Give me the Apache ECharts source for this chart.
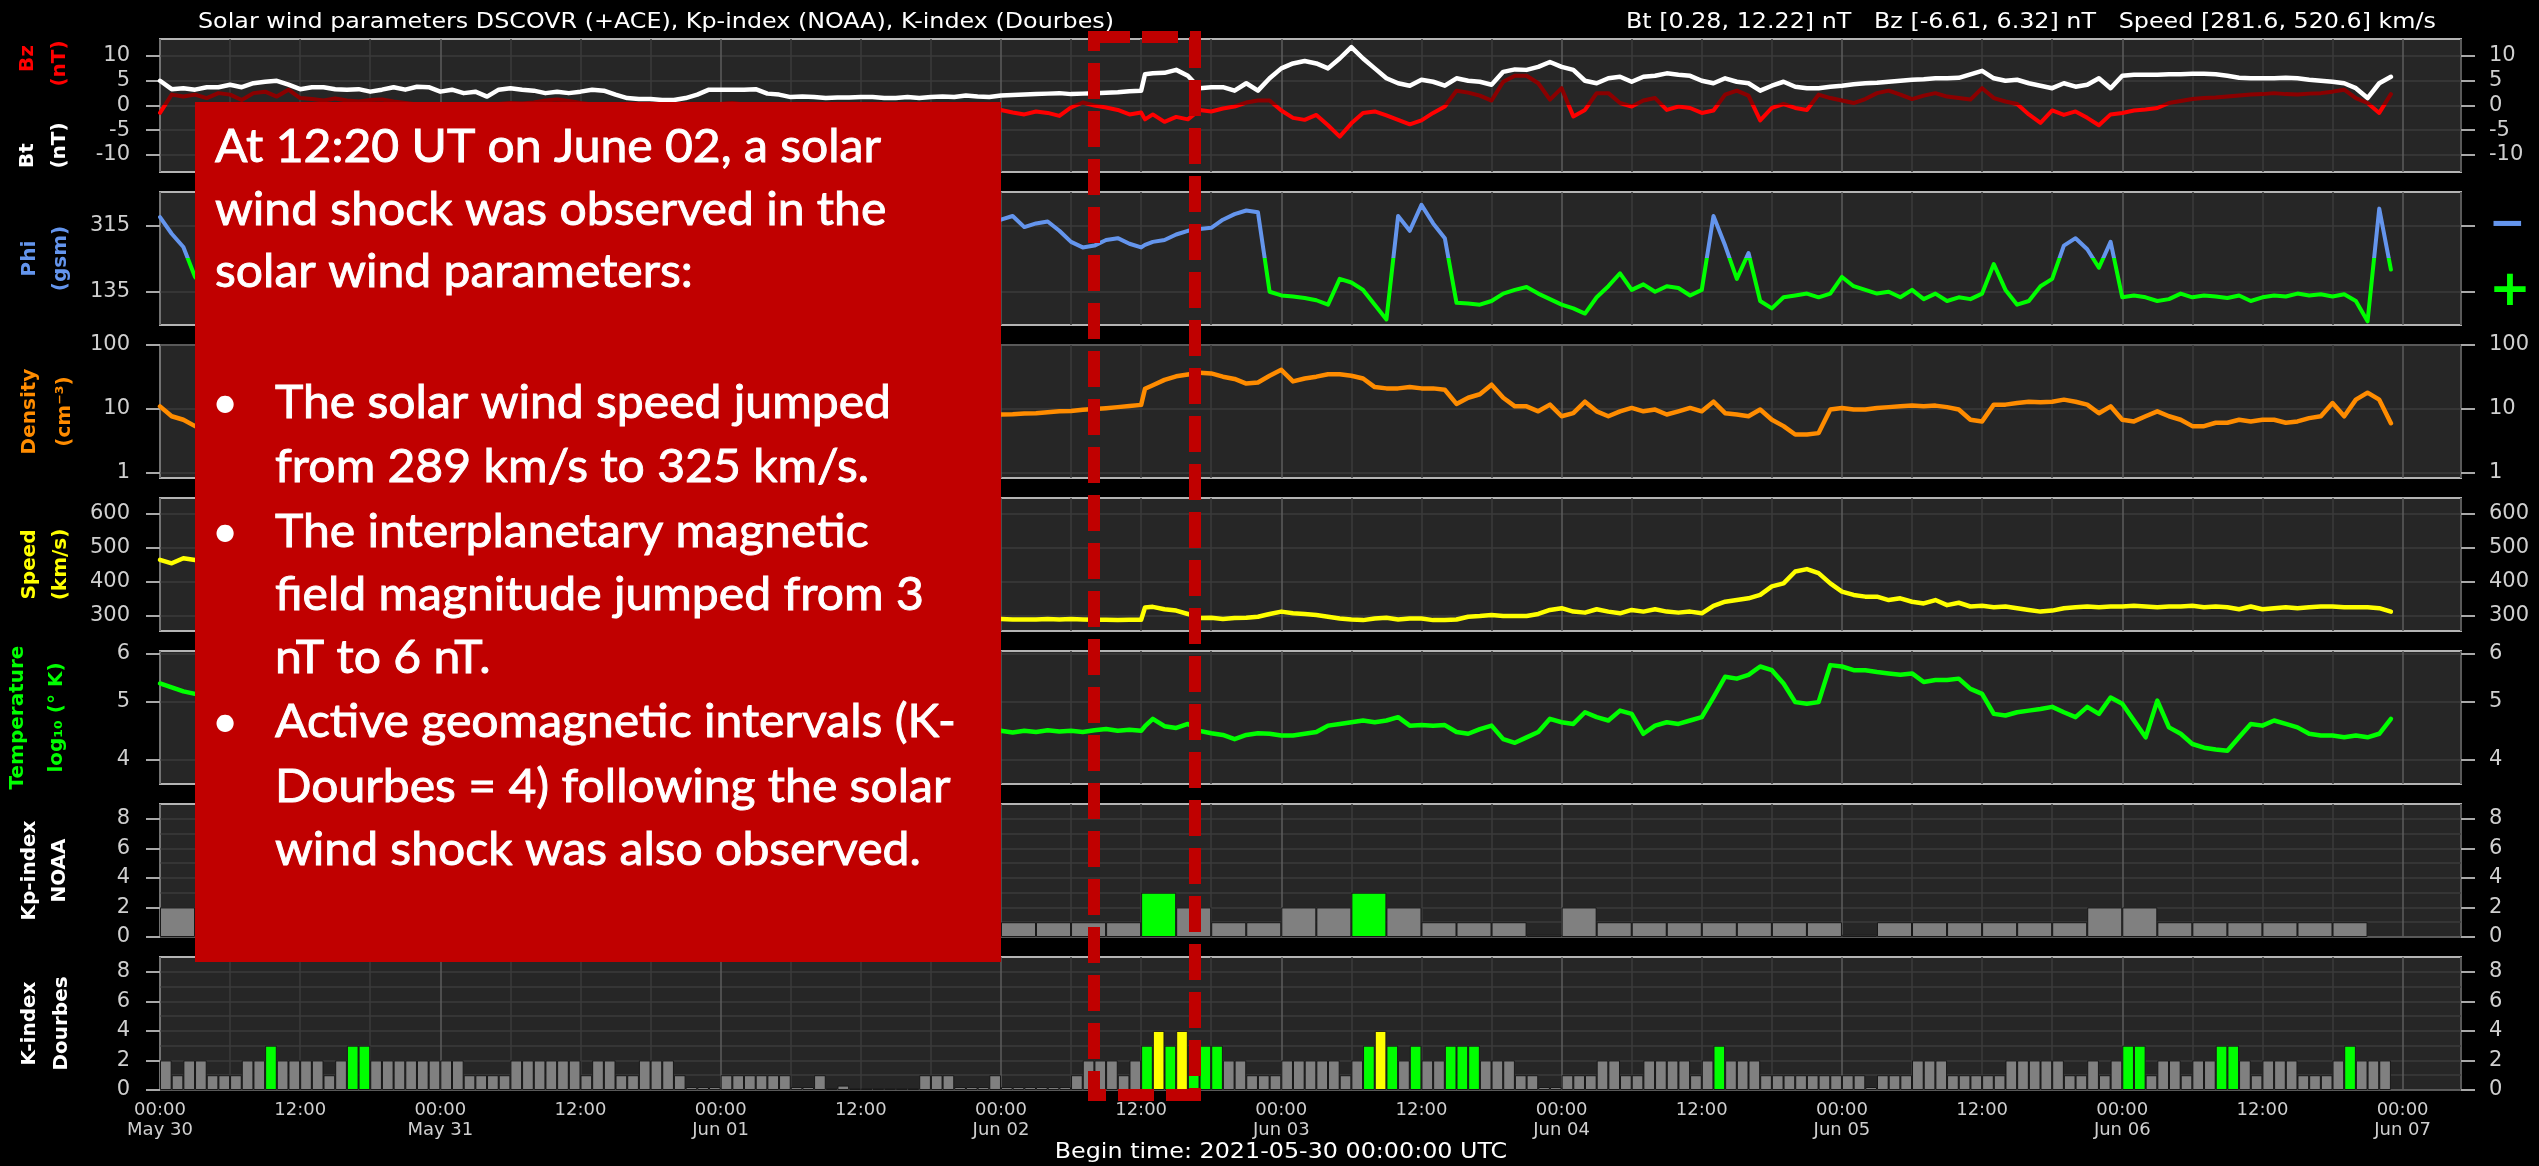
<!DOCTYPE html>
<html>
<head>
<meta charset="utf-8">
<script src="https://cdn.jsdelivr.net/npm/echarts@6/dist/echarts.min.js"></script>
<style>
  html, body { margin: 0; padding: 0; background: #000; }
  #chart { width: 2539px; height: 1166px; }
</style>
</head>
<body>
<div id="chart"></div>
<script>
// ---------------- data (hours since 2021-05-30 00:00 UTC) ----------------
const DAY_LABELS = ['May 30', 'May 31', 'Jun 01', 'Jun 02', 'Jun 03', 'Jun 04', 'Jun 05', 'Jun 06', 'Jun 07'];
const SHOCK_HOUR = 84.33;

// hourly samples, plus the shock instant (12:20 UT on Jun 02)
const HOURS = [];
for (let h = 0; h < 192; h++) {
  HOURS.push(h);
  if (h === 84) HOURS.push(SHOCK_HOUR);
}

// Bt (nT)
const BT = [
  5.0, 3.3, 3.5, 3.2, 3.7, 3.7, 4.2, 3.7, 4.5, 4.8, 5.0, 4.2,
  3.3, 3.7, 3.7, 3.3, 3.2, 3.3, 2.8, 3.2, 3.7, 3.2, 3.8, 3.7,
  2.8, 3.2, 2.5, 2.8, 1.8, 3.2, 3.5, 3.2, 3.0, 2.5, 2.8, 2.5,
  2.8, 3.2, 3.0, 2.2, 1.5, 1.3, 1.3, 1.1, 1.1, 1.5, 2.2, 3.2,
  3.2, 3.2, 3.2, 3.3, 2.4, 2.2, 1.7, 1.8, 1.7, 1.5, 1.6, 1.6,
  1.7, 1.7, 1.5, 1.5, 1.7, 1.5, 1.7, 1.8, 1.7, 2.0, 1.8, 1.7,
  2.0, 2.1, 2.2, 2.3, 2.4, 2.5, 2.3, 2.4, 2.5, 2.6, 2.7, 2.9,
  3.0, 6.3, 6.5, 6.6, 7.2, 6.0, 3.5, 3.7, 3.7, 3.0, 4.5, 3.0, 5.5,
  7.5, 8.5, 9.0, 8.5, 7.5, 9.5, 11.8, 9.5, 7.5, 5.5, 4.5, 4.0,
  5.2, 4.8, 4.0, 5.5, 5.0, 4.8, 4.2, 6.8, 7.3, 7.2, 7.8, 8.8,
  7.8, 7.2, 5.0, 4.5, 5.5, 5.8, 4.8, 5.8, 6.0, 6.5, 6.2, 6.0,
  5.0, 4.5, 5.5, 4.8, 4.5, 3.0, 4.0, 4.8, 3.8, 3.5, 3.5, 3.8,
  4.0, 4.3, 4.5, 4.6, 4.8, 5.0, 5.2, 5.3, 5.5, 5.5, 5.6, 6.3,
  7.0, 5.5, 5.0, 5.2, 4.5, 4.0, 3.5, 4.5, 3.8, 4.2, 5.5, 3.5,
  6.0, 6.2, 6.2, 6.2, 6.3, 6.3, 6.4, 6.4, 6.3, 6.0, 5.6, 5.5,
  5.5, 5.5, 5.6, 5.5, 5.2, 5.0, 4.8, 4.5, 3.5, 1.5, 4.5, 5.8
];

// Bz (nT)
const BZ = [
  -1.5, 2.2, 1.8, 2.2, 1.5, 2.5, 2.2, 1.1, 2.5, 2.8, 1.8, 3.2,
  1.5, 1.3, 1.0, 1.4, 1.0, 0.8, 1.1, 1.2, 0.8, 0.5, 0.2, -0.5,
  -1.0, -0.8, -0.3, 0.2, -0.5, 0.3, 0.5, 0.4, 0.6, 1.0, 1.2, 0.9,
  0.5, 0.2, -0.3, -0.8, -0.5, -0.2, 0.1, -0.3, -0.5, -0.8, -1.0, -0.5,
  0.3, 0.5, 0.2, -0.2, -0.6, -0.8, -0.5, -0.3, -0.6, -0.9, -1.0, -0.7,
  -0.5, -0.8, -1.0, -0.6, -0.4, -0.7, -0.9, -1.1, -0.8, -0.6, -0.9, -1.0,
  -0.9, -1.4, -1.8, -1.2, -1.5, -2.1, -0.4, 0.6, 0.0, -0.4, -0.9, -1.8,
  -1.4, -2.8, -1.8, -3.3, -2.3, -2.8, -0.9, -1.2, -0.6, -0.2, 0.6, 1.0, 1.0,
  -1.0, -2.5, -2.9, -1.9, -4.0, -6.3, -3.6, -1.5, -1.2, -2.0, -2.9, -3.8,
  -3.0, -1.5, -0.2, 3.0, 2.6, 2.0, 1.0, 4.8, 6.0, 6.0, 4.5, 1.2,
  3.5, -2.2, -0.9, 2.5, 2.5, 0.5, -0.2, 1.0, 1.5, -0.9, -0.2, -0.5,
  -1.5, -1.0, 2.2, 3.0, 2.0, -3.0, -0.5, 0.3, -0.5, -0.9, 2.2, 1.5,
  1.0, 0.5, 1.3, 2.5, 3.0, 2.2, 1.3, 2.0, 2.5, 1.8, 1.5, 1.2,
  3.5, 1.5, 0.8, 0.3, -1.8, -3.5, -1.0, -1.9, -1.2, -2.5, -4.0, -1.8,
  -1.5, -1.0, -0.8, -0.5, 0.5, 0.9, 1.3, 1.5, 1.6, 1.8, 2.0, 2.2,
  2.3, 2.5, 2.3, 2.2, 2.4, 2.5, 2.8, 3.2, 1.5, 0.5, -1.5, 2.3
];

// Phi GSM (degrees, plotted 45..405)
const PHI = [
  337, 292, 256, 175, 140, 130, 300, 320, 310, 330, 320, 315,
  300, 290, 310, 320, 330, 310, 300, 140, 130, 120, 300, 310,
  320, 330, 310, 300, 290, 280, 300, 310, 320, 300, 290, 140,
  150, 130, 120, 140, 300, 310, 320, 330, 310, 300, 290, 300,
  310, 320, 330, 340, 320, 310, 300, 290, 300, 310, 320, 310,
  300, 310, 320, 330, 320, 310, 300, 290, 300, 310, 320, 330,
  330, 340, 310, 320, 325, 300, 270, 255, 260, 275, 280, 265,
  255, 262, 270, 275, 290, 300, 305, 308, 330, 345, 355, 350, 135,
  125, 122, 118, 112, 100, 170, 160, 140, 100, 60, 340, 300,
  370, 320, 280, 105, 103, 100, 110, 130, 140, 148, 130, 115,
  100, 90, 76, 120, 150, 185, 140, 155, 135, 150, 145, 125,
  140, 340, 260, 170, 240, 110, 90, 120, 125, 130, 120, 130,
  175, 150, 140, 130, 135, 120, 140, 115, 130, 110, 120, 115,
  130, 210, 140, 100, 110, 150, 170, 260, 280, 250, 200, 270,
  120, 125, 120, 110, 115, 130, 120, 125, 122, 118, 125, 110,
  120, 125, 122, 130, 125, 128, 122, 128, 110, 55, 360, 195
];

// Density (cm^-3)
const DENSITY = [
  11, 7.7, 6.8, 5.4, 6.0, 6.3, 6.8, 7.2, 7.0, 6.5, 6.8, 7.5,
  8.0, 8.5, 8.2, 7.8, 7.5, 7.0, 6.8, 7.2, 7.8, 8.5, 9.0, 8.8,
  8.2, 7.6, 7.0, 6.5, 6.2, 6.0, 6.4, 6.8, 7.2, 7.6, 8.0, 8.5,
  9.2, 9.8, 9.5, 9.0, 8.5, 8.0, 7.5, 7.2, 7.0, 7.4, 7.8, 8.2,
  8.6, 9.0, 8.8, 8.4, 8.0, 7.7, 7.5, 7.8, 8.0, 8.3, 8.5, 8.2,
  7.9, 7.7, 7.9, 8.1, 8.3, 8.0, 8.1, 8.2, 8.0, 8.1, 8.2, 8.3,
  8.2, 8.3, 8.5, 8.6, 8.9, 9.2, 9.3, 9.7, 10.0, 10.3, 10.7, 11.1,
  11.6, 20.7, 23.5, 28.5, 32.4, 34.6, 37, 36, 32, 29.5, 25, 26, 33,
  41, 27, 30, 32, 35, 35, 33, 30, 22, 21, 21, 22,
  21, 21, 20, 12, 15, 17, 24, 15, 11, 11, 9.2, 11.7,
  7.7, 8.6, 13, 9.2, 7.7, 9.2, 10.4, 9.2, 9.8, 8.2, 9.2, 10.4,
  9.2, 13, 8.6, 8.2, 7.7, 9.8, 6.8, 5.4, 4.0, 4.0, 4.2, 9.8,
  10.4, 9.8, 9.8, 10.4, 10.7, 11, 11.3, 11, 11.3, 10.7, 9.8, 6.8,
  6.4, 11.7, 11.7, 12.4, 13, 12.7, 13, 14, 13, 11.7, 8.6, 11,
  6.8, 6.4, 7.7, 9.2, 7.7, 6.8, 5.4, 5.4, 6.1, 6.1, 6.8, 6.4,
  6.8, 6.8, 6.1, 6.4, 7.2, 7.7, 12.4, 7.7, 14, 18, 14, 6.0
];

// Speed (km/s)
const SPEED = [
  465, 455, 470, 465, 460, 458, 452, 450, 445, 440, 442, 438,
  432, 428, 425, 420, 418, 412, 408, 405, 400, 396, 392, 388,
  385, 380, 376, 372, 370, 366, 362, 358, 355, 352, 348, 345,
  342, 338, 335, 332, 330, 328, 325, 322, 320, 318, 315, 313,
  311, 309, 307, 305, 304, 302, 300, 299, 298, 297, 296, 295,
  295, 294, 294, 293, 293, 292, 292, 292, 291, 291, 291, 291,
  291, 290, 290, 290, 291, 290, 291, 290, 289, 289, 288, 289,
  289, 325, 327, 320, 316, 306, 294, 295, 291, 294, 295, 298, 306,
  313, 308, 306, 303, 298, 293, 290, 288, 293, 295, 290, 293,
  293, 288, 288, 290, 298, 300, 303, 300, 300, 300, 306, 318,
  323, 313, 310, 320, 313, 308, 318, 313, 320, 313, 310, 313,
  308, 330, 342, 347, 352, 362, 387, 396, 431, 438, 426, 396,
  372, 362, 357, 357, 347, 352, 342, 337, 347, 332, 339, 328,
  330, 326, 328, 323, 318, 313, 316, 323, 326, 328, 326, 328,
  328, 330, 328, 326, 328, 328, 330, 326, 328, 326, 320, 328,
  320, 323, 326, 323, 326, 328, 328, 326, 326, 326, 323, 313
];

// Temperature, log10 (K)
const TEMPERATURE = [
  5.36, 5.28, 5.2, 5.15, 5.1, 5.05, 5.0, 4.98, 4.95, 4.92, 4.9, 4.88,
  4.85, 4.83, 4.8, 4.82, 4.78, 4.75, 4.72, 4.7, 4.72, 4.68, 4.65, 4.66,
  4.62, 4.6, 4.58, 4.6, 4.57, 4.55, 4.56, 4.54, 4.52, 4.55, 4.53, 4.5,
  4.52, 4.5, 4.48, 4.5, 4.52, 4.49, 4.47, 4.5, 4.48, 4.46, 4.47, 4.49,
  4.5, 4.48, 4.46, 4.47, 4.45, 4.47, 4.48, 4.46, 4.45, 4.47, 4.46, 4.48,
  4.47, 4.45, 4.46, 4.48, 4.47, 4.46, 4.45, 4.47, 4.48, 4.46, 4.47, 4.46,
  4.47, 4.44, 4.47, 4.45, 4.48, 4.46, 4.47, 4.45, 4.48, 4.5, 4.47, 4.49,
  4.47, 4.55, 4.68, 4.55, 4.52, 4.59, 4.47, 4.43, 4.4, 4.33, 4.4, 4.43, 4.42,
  4.39, 4.39, 4.42, 4.45, 4.56, 4.59, 4.62, 4.65, 4.62, 4.65, 4.71, 4.56,
  4.57, 4.56, 4.57, 4.45, 4.42, 4.5, 4.56, 4.33, 4.27, 4.36, 4.45, 4.68,
  4.62, 4.59, 4.8, 4.71, 4.65, 4.83, 4.77, 4.42, 4.56, 4.62, 4.59, 4.65,
  4.71, 5.08, 5.5, 5.46, 5.54, 5.72, 5.64, 5.36, 4.99, 4.96, 4.99, 5.75,
  5.72, 5.64, 5.64, 5.6, 5.57, 5.54, 5.57, 5.39, 5.43, 5.43, 5.46, 5.25,
  5.15, 4.77, 4.74, 4.8, 4.83, 4.86, 4.9, 4.8, 4.71, 4.9, 4.77, 5.08,
  4.96, 4.65, 4.36, 5.02, 4.53, 4.42, 4.25, 4.19, 4.16, 4.14, 4.36, 4.59,
  4.56, 4.65, 4.59, 4.53, 4.42, 4.39, 4.39, 4.36, 4.39, 4.36, 4.42, 4.68
];

// Kp-index (NOAA), 3-hour slots
const KP = [
  2, 1, 2, 2, 2, 2, 2, 2,
  1, 1, 2, 2, 1, 2, 1, 0.15,
  1, 1, 1, 0.15, 0.15, 1, 1, 1,
  1, 1, 1, 1, 3, 2, 1, 1,
  2, 2, 3, 2, 1, 1, 1, 0.15,
  2, 1, 1, 1, 1, 1, 1, 1,
  0.15, 1, 1, 1, 1, 1, 1, 2,
  2, 1, 1, 1, 1, 1, 1, null
];

// K-index (Dourbes), hourly
const K_DOURBES = [
  2, 1, 2, 2, 1, 1, 1, 2, 2, 3,
  2, 2, 2, 2, 1, 2, 3, 3, 2, 2,
  2, 2, 2, 2, 2, 2, 1, 1, 1, 1,
  2, 2, 2, 2, 2, 2, 1, 2, 2, 1,
  1, 2, 2, 2, 1, 0.2, 0.2, 0.2, 1, 1,
  1, 1, 1, 1, 0.2, 0.2, 1, 0.1, 0.3, 0.1,
  0.1, 0.1, 0.1, 0.1, 0.1, 1, 1, 1, 0.2, 0.2,
  0.2, 1, 0.2, 0.2, 0.2, 0.2, 0.2, 0.2, 1, 2,
  2, 2, 1, 2, 3, 4, 3, 4, 3, 3,
  3, 2, 2, 1, 1, 1, 2, 2, 2, 2,
  2, 1, 2, 3, 4, 3, 2, 3, 2, 2,
  3, 3, 3, 2, 2, 2, 1, 1, 0.2, 0.2,
  1, 1, 1, 2, 2, 1, 1, 2, 2, 2,
  2, 1, 2, 3, 2, 2, 2, 1, 1, 1,
  1, 1, 1, 1, 1, 1, 0.2, 1, 1, 1,
  2, 2, 2, 1, 1, 1, 1, 1, 2, 2,
  2, 2, 2, 1, 1, 2, 1, 2, 3, 3,
  1, 2, 2, 1, 2, 2, 3, 3, 2, 1,
  2, 2, 2, 1, 1, 1, 2, 3, 2, 2,
  2, null
];

// axis tick values
const BZBT_TICKS = [-10, -5, 0, 5, 10];
const PHI_TICKS = [135, 315];
const DENSITY_TICKS = [1, 10, 100];
const SPEED_TICKS = [300, 400, 500, 600];
const TEMP_TICKS = [4, 5, 6];
const K_TICKS = [0, 2, 4, 6, 8];
const K_GRID = [0, 1, 2, 3, 4, 5, 6, 7, 8];

[['BT', BT], ['BZ', BZ], ['PHI', PHI], ['DENSITY', DENSITY], ['SPEED', SPEED], ['TEMPERATURE', TEMPERATURE]]
  .forEach(([name, arr]) => {
    if (arr.length !== HOURS.length) throw new Error(name + ' has ' + arr.length + ' values, expected ' + HOURS.length);
  });
if (KP.length !== 64) throw new Error('KP length ' + KP.length);
if (K_DOURBES.length !== 192) throw new Error('K length ' + K_DOURBES.length);

// ---------------- layout / style ----------------
const PLOT_LEFT = 160;
const PLOT_W = 2301;
const PANEL_TOP0 = 39;
const PANEL_STEP = 153;
const PANEL_H = 133;
const X_MAX = 197;
const HOUR_PX = PLOT_W / X_MAX;
const PANEL_TOPS = [0, 1, 2, 3, 4, 5, 6].map(i => PANEL_TOP0 + i * PANEL_STEP);

const LABEL_COLOR = '#cfcfcf';
const TICK_COLOR = '#a8a8a8';
const GRID_LINE = '#3b3b3b';
const DAY_LINE = '#5c5c5c';
const BOX_RED = '#c00000';
const ORANGE = '#ff8c00';
const BLUE = '#6495ed';

const log10 = Math.log10;
const pow10 = v => String(Math.round(Math.pow(10, v)));

const panels = [
  { min: -13.44, max: 13.44, ticks: BZBT_TICKS, grid: BZBT_TICKS, fmt: String },
  { min: 45, max: 405, ticks: PHI_TICKS, grid: PHI_TICKS, fmt: String,
    rightFmt: v => (v === 315 ? '{m|\u2212}' : '{p|+}') },
  { min: -0.078, max: 2, ticks: DENSITY_TICKS.map(log10), grid: DENSITY_TICKS.map(log10), fmt: pow10 },
  { min: 256, max: 647, ticks: SPEED_TICKS, grid: SPEED_TICKS, fmt: String },
  { min: log10(3.646), max: log10(6.07), ticks: TEMP_TICKS.map(log10), grid: TEMP_TICKS.map(log10), fmt: pow10 },
  { min: 0, max: 9, ticks: K_TICKS, grid: K_GRID, fmt: String },
  { min: 0, max: 9, ticks: K_TICKS, grid: K_GRID, fmt: String }
];

function timeLabel(v) {
  if (v % 24 === 0) return '00:00\n' + DAY_LABELS[v / 24];
  if (v % 12 === 0) return '12:00';
  return '';
}

const grids = PANEL_TOPS.map(top => ({
  left: PLOT_LEFT, top: top, width: PLOT_W, height: PANEL_H,
  show: true, backgroundColor: '#262626', borderColor: '#b4b4b4', borderWidth: 2
}));

const xAxes = PANEL_TOPS.map((_, i) => ({
  type: 'value', gridIndex: i, min: 0, max: X_MAX, interval: 6,
  axisLine: { show: false }, axisTick: { show: false },
  axisLabel: {
    show: i === 6, formatter: timeLabel, color: LABEL_COLOR,
    fontFamily: 'DejaVu Sans', fontSize: 18, lineHeight: 20, margin: 10
  },
  splitLine: { show: true, lineStyle: { color: [DAY_LINE, GRID_LINE, GRID_LINE, GRID_LINE], width: 1.5 } }
}));

const labelStyle = { color: LABEL_COLOR, fontFamily: 'DejaVu Sans', fontSize: 21 };
const yAxes = [];
panels.forEach((p, i) => {
  // grid lines only
  yAxes.push({
    type: 'value', gridIndex: i, min: p.min, max: p.max, position: 'left',
    axisLine: { show: false },
    axisLabel: { show: false, customValues: p.grid },
    axisTick: { show: false, customValues: p.grid },
    splitLine: { show: true, lineStyle: { color: GRID_LINE, width: 1.5 } }
  });
  // left ticks + labels
  yAxes.push({
    type: 'value', gridIndex: i, min: p.min, max: p.max, position: 'left',
    axisLine: { show: false }, splitLine: { show: false },
    axisTick: { show: true, length: 14, customValues: p.ticks, lineStyle: { color: TICK_COLOR, width: 2 } },
    axisLabel: Object.assign({ customValues: p.ticks, formatter: p.fmt, margin: 30 }, labelStyle)
  });
  // right ticks + labels
  yAxes.push({
    type: 'value', gridIndex: i, min: p.min, max: p.max, position: 'right',
    axisLine: { show: false }, splitLine: { show: false },
    axisTick: { show: true, length: 14, customValues: p.ticks, lineStyle: { color: TICK_COLOR, width: 2 } },
    axisLabel: Object.assign({
      customValues: p.ticks, formatter: p.rightFmt || p.fmt, margin: 28,
      rich: {
        m: { color: BLUE, fontSize: 44, fontWeight: 'bold', fontFamily: 'DejaVu Sans' },
        p: { color: '#00ff00', fontSize: 50, fontWeight: 'bold', fontFamily: 'DejaVu Sans' }
      }
    }, labelStyle)
  });
});

function pairs(values, transform) {
  return HOURS.map((h, i) => [h, values[i] == null ? null : (transform ? transform(values[i]) : values[i])]);
}

function lineSeries(panel, data, color, width) {
  const s = {
    type: 'line', xAxisIndex: panel, yAxisIndex: panel * 3 + 1, data: data,
    symbol: 'none', silent: true, animation: false,
    lineStyle: { width: width || 4.5, join: 'round', cap: 'round' }
  };
  if (color) {
    s.lineStyle.color = color;
    s.itemStyle = { color: color };
  }
  return s;
}

function kColor(params) {
  const v = params.value[1];
  if (v >= 4) return '#ffff00';
  if (v >= 3) return '#00ff00';
  return '#808080';
}

const series = [
  lineSeries(0, pairs(BZ), null, 4),
  lineSeries(0, pairs(BT), '#ffffff', 4.5),
  lineSeries(1, pairs(PHI), null, 4),
  lineSeries(2, pairs(DENSITY, log10), ORANGE, 4.5),
  lineSeries(3, pairs(SPEED), '#ffff00', 4.5),
  lineSeries(4, pairs(TEMPERATURE, log10), '#00ff00', 4.5),
  {
    type: 'bar', xAxisIndex: 5, yAxisIndex: 16, barWidth: 3 * HOUR_PX, silent: true, animation: false,
    data: KP.map((v, i) => [i * 3 + 1.5, v]),
    itemStyle: { color: kColor, borderColor: '#181818', borderWidth: 1 }
  },
  {
    type: 'bar', xAxisIndex: 6, yAxisIndex: 19, barWidth: HOUR_PX, silent: true, animation: false,
    data: K_DOURBES.map((v, i) => [i + 0.5, v]),
    itemStyle: { color: kColor, borderColor: '#181818', borderWidth: 1 }
  }
];

// ---------------- annotation text ----------------
const NAME_LABELS = [
  // panel, text, color, x, offset from panel centre
  [0, 'Bz', '#ff0000', 28, -47],
  [0, '(nT)', '#ff0000', 60, -42],
  [0, 'Bt', '#ffffff', 28, 50],
  [0, '(nT)', '#ffffff', 60, 40],
  [1, 'Phi', BLUE, 30, 0],
  [1, '(gsm)', BLUE, 61, 0],
  [2, 'Density', ORANGE, 30, 0],
  [2, '(cm\u207B\u00B3)', ORANGE, 65, 0],
  [3, 'Speed', '#ffff00', 30, 0],
  [3, '(km/s)', '#ffff00', 61, 0],
  [4, 'Temperature', '#00ff00', 18, 0],
  [4, 'log\u2081\u2080 (\u00B0 K)', '#00ff00', 57, 0],
  [5, 'Kp-index', '#ffffff', 30, 0],
  [5, 'NOAA', '#ffffff', 60, 0],
  [6, 'K-index', '#ffffff', 30, 0],
  [6, 'Dourbes', '#ffffff', 62, 0]
];

const TITLE_LEFT = 'Solar wind parameters DSCOVR (+ACE), Kp-index (NOAA), K-index (Dourbes)';
const TITLE_RIGHT = 'Bt [0.28, 12.22] nT   Bz [-6.61, 6.32] nT   Speed [281.6, 520.6] km/s';
const BEGIN_TIME = 'Begin time: 2021-05-30 00:00:00 UTC';
const TITLE_STRETCH = 1.134;

const BOX_LINES = [
  ['At 12:20 UT on June 02, a solar', 215, 162],
  ['wind shock was observed in the', 215, 225],
  ['solar wind parameters:', 215, 287],
  ['The solar wind speed jumped', 275, 418],
  ['from 289 km/s to 325 km/s.', 275, 482],
  ['The interplanetary magnetic', 275, 547],
  ['field magnitude jumped from 3', 275, 610],
  ['nT to 6 nT.', 275, 673],
  ['Active geomagnetic intervals (K-', 275, 737],
  ['Dourbes = 4) following the solar', 275, 802],
  ['wind shock was also observed.', 275, 865]
];
const BULLET_BASELINES = [418, 547, 737];

const BOX_FONT_SIZE = 46;
const BOX_FONT = BOX_FONT_SIZE + 'px Lato';
const measureCtx = document.createElement('canvas').getContext('2d');
measureCtx.font = BOX_FONT;
const boxScaleX = 666 / measureCtx.measureText(BOX_LINES[0][0]).width;
const baseToMid = Math.round(BOX_FONT_SIZE * 0.33);

function textEl(text, x, y, font, fill, align, extra, styleExtra) {
  return Object.assign({
    type: 'text', x: x, y: y, z: 110, silent: true,
    style: Object.assign({
      text: text, font: font, fill: fill,
      textAlign: align, textVerticalAlign: 'middle', align: align, verticalAlign: 'middle'
    }, styleExtra || {})
  }, extra || {});
}

const graphics = [];
NAME_LABELS.forEach(([panel, text, color, x, dy]) => {
  const cy = PANEL_TOPS[panel] + PANEL_H / 2 + dy;
  graphics.push(textEl(text, x, cy, 'bold 20px "DejaVu Sans"', color, 'center', { rotation: Math.PI / 2 }));
});
graphics.push(textEl(TITLE_LEFT, 198, 23, '21px "DejaVu Sans"', '#ffffff', 'left', { scaleX: TITLE_STRETCH }));
graphics.push(textEl(TITLE_RIGHT, 2436, 23, '21px "DejaVu Sans"', '#ffffff', 'right', { scaleX: TITLE_STRETCH }));
graphics.push(textEl(BEGIN_TIME, 1281, 1153, '21px "DejaVu Sans"', '#ffffff', 'center', { scaleX: TITLE_STRETCH }));

// red annotation box
graphics.push({
  type: 'rect', z: 100, silent: true,
  shape: { x: 195, y: 102, width: 806, height: 860 },
  style: { fill: BOX_RED }
});
const boxTextStroke = { stroke: '#ffffff', lineWidth: 0.9 };
BOX_LINES.forEach(([text, x, base]) => {
  graphics.push(textEl(text, x, base - baseToMid, BOX_FONT, '#ffffff', 'left', { scaleX: boxScaleX }, boxTextStroke));
});
BULLET_BASELINES.forEach(base => {
  graphics.push(textEl('\u2022', 225, base - baseToMid, BOX_FONT, '#ffffff', 'center'));
});

// dashed highlight of the shock interval
graphics.push({
  type: 'rect', z: 100, silent: true,
  shape: { x: 1094, y: 37, width: 101, height: 1058 },
  style: { fill: 'none', stroke: BOX_RED, lineWidth: 12, lineDash: [36, 12] }
});

const chart = echarts.init(document.getElementById('chart'), null, { renderer: 'canvas', devicePixelRatio: 1 });
chart.setOption({
  backgroundColor: '#000000',
  animation: false,
  grid: grids,
  xAxis: xAxes,
  yAxis: yAxes,
  visualMap: [
    { type: 'piecewise', show: false, seriesIndex: 0, dimension: 1,
      pieces: [{ gt: 0, lte: 50, color: '#8b0000' }, { gte: -50, lte: 0, color: '#ff0000' }] },
    { type: 'piecewise', show: false, seriesIndex: 2, dimension: 1,
      pieces: [{ gt: 225, lte: 1000, color: BLUE }, { gte: -1000, lte: 225, color: '#00ff00' }] }
  ],
  series: series,
  graphic: graphics
});
</script>
</body>
</html>
